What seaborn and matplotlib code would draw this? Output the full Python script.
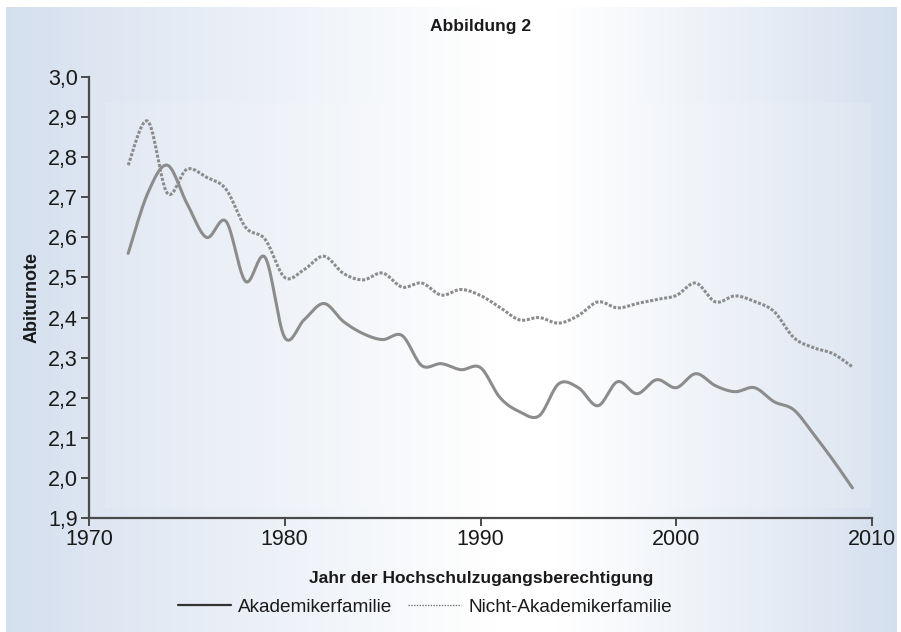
import numpy as np
import pandas as pd
import matplotlib
matplotlib.use("Agg")
import matplotlib.pyplot as plt
from matplotlib.lines import Line2D
from matplotlib.colors import to_rgb
import seaborn as sns

# annual values
years = list(range(1972, 2010))
akademiker = [2.56, 2.71, 2.78, 2.685, 2.60, 2.64, 2.49, 2.55, 2.35, 2.395,
              2.435, 2.39, 2.36, 2.345, 2.355, 2.28, 2.285, 2.27, 2.275, 2.20,
              2.165, 2.155, 2.235, 2.225, 2.18, 2.24, 2.21, 2.245, 2.225, 2.26,
              2.23, 2.215, 2.225, 2.19, 2.17, 2.11, 2.045, 1.975]
nicht_akademiker = [2.78, 2.89, 2.71, 2.77, 2.75, 2.72, 2.625, 2.595, 2.50, 2.52,
                    2.553, 2.51, 2.494, 2.511, 2.476, 2.486, 2.456, 2.47, 2.455, 2.425,
                    2.394, 2.40, 2.386, 2.405, 2.439, 2.424, 2.435, 2.445, 2.455, 2.486,
                    2.439, 2.454, 2.44, 2.415, 2.35, 2.325, 2.31, 2.277]
groups = ["Akademikerfamilie", "Nicht-Akademikerfamilie"]
x_ticks = [1970, 1980, 1990, 2000, 2010]
y_ticks = [1.9, 2.0, 2.1, 2.2, 2.3, 2.4, 2.5, 2.6, 2.7, 2.8, 2.9, 3.0]

LINE = "#8c8c8c"
AXIS = "#4a4a4a"
TEXT = "#1a1a1a"


def smoothed(xs, ys, n=16):
    # Catmull-Rom rendering, like a "smoothed line" in office charts
    xs = np.asarray(xs, float)
    ys = np.asarray(ys, float)
    ox, oy = [], []
    t = np.linspace(0, 1, n, endpoint=False)
    for i in range(len(xs) - 1):
        x0, x1, x2, x3 = xs[max(i - 1, 0)], xs[i], xs[i + 1], xs[min(i + 2, len(xs) - 1)]
        y0, y1, y2, y3 = ys[max(i - 1, 0)], ys[i], ys[i + 1], ys[min(i + 2, len(ys) - 1)]
        for a, b, c, d, out in ((x0, x1, x2, x3, ox), (y0, y1, y2, y3, oy)):
            out.extend(0.5 * (2 * b + (-a + c) * t + (2 * a - 5 * b + 4 * c - d) * t ** 2
                              + (-a + 3 * b - 3 * c + d) * t ** 3))
    ox.append(xs[-1])
    oy.append(ys[-1])
    return ox, oy


frames = []
for name, vals in zip(groups, [akademiker, nicht_akademiker]):
    sx, sy = smoothed(years, vals)
    frames.append(pd.DataFrame({"Jahr": sx, "Note": sy, "Gruppe": name}))
df = pd.concat(frames, ignore_index=True)

sns.set_style("ticks")
plt.rcParams["font.family"] = ["Liberation Sans", "DejaVu Sans"]

W, H = 901, 632
fig = plt.figure(figsize=(W / 100, H / 100), dpi=100)
fig.patch.set_facecolor("white")

# background panel: light blue at the edges, white towards the middle
bg = fig.add_axes([6 / W, 0, 891 / W, 625 / H], zorder=-5)
u = np.linspace(0, 1, 600)
f = np.interp(u, [0, 0.55, 0.62, 1], [0, 1, 1, 0]) ** 0.9
edge = np.array(to_rgb("#d4dfee"))
row = edge[None, :] * (1 - f[:, None]) + np.ones(3)[None, :] * f[:, None]
bg.imshow(np.repeat(row[None, :, :], 2, axis=0), aspect="auto", extent=[0, 1, 0, 1])
bg.axis("off")
bg.add_patch(plt.Rectangle((100 / W, (632 - 508) / 625), 775 / W, 405 / 625,
                           transform=bg.transAxes, color="white", alpha=0.12, lw=0))

ax = fig.add_axes([89 / W, 1 - 518 / H, 783 / W, 441 / H])
ax.patch.set_alpha(0)

sns.lineplot(data=df, x="Jahr", y="Note", hue="Gruppe", style="Gruppe",
             palette={g: LINE for g in groups},
             dashes={groups[0]: "", groups[1]: (1, 0.55)},
             linewidth=2.2, sort=False, estimator=None, legend=False, ax=ax)

ax.set_xlim(1970, 2010)
ax.set_ylim(1.9, 3.0)
ax.set_xticks(x_ticks)
ax.set_xticklabels([str(v) for v in x_ticks])
ax.set_yticks(y_ticks)
ax.set_yticklabels([f"{v:.1f}".replace(".", ",") for v in y_ticks])
ax.set_xlabel("")
ax.set_ylabel("")
for s in ["top", "right"]:
    ax.spines[s].set_visible(False)
for s in ["left", "bottom"]:
    ax.spines[s].set_color(AXIS)
    ax.spines[s].set_linewidth(1.6)
ax.tick_params(direction="out", length=6, width=1.4, color=AXIS,
               labelsize=15.5, labelcolor=TEXT, pad=2)

fig.text(481 / W, 1 - 27 / H, "Abbildung 2", ha="center", va="center",
         fontsize=12.5, fontweight="bold", color=TEXT)
fig.text(481 / W, 1 - 578 / H, "Jahr der Hochschulzugangsberechtigung",
         ha="center", va="center", fontsize=12.5, fontweight="bold", color=TEXT)
fig.text(32 / W, 1 - 297 / H, "Abiturnote", rotation=90, ha="center", va="center",
         fontsize=13, fontweight="bold", color=TEXT)

handles = [Line2D([], [], color="#333333", lw=1.6),
           Line2D([], [], color="#777777", lw=1.0, linestyle=(0, (1, 1)))]
fig.legend(handles, groups, loc="center", bbox_to_anchor=(425 / W, 1 - 607 / H),
           ncol=2, frameon=False, fontsize=13.7, handlelength=2.8,
           handletextpad=0.4, columnspacing=0.8, labelcolor=TEXT)

fig.savefig("out.png", dpi=100)
